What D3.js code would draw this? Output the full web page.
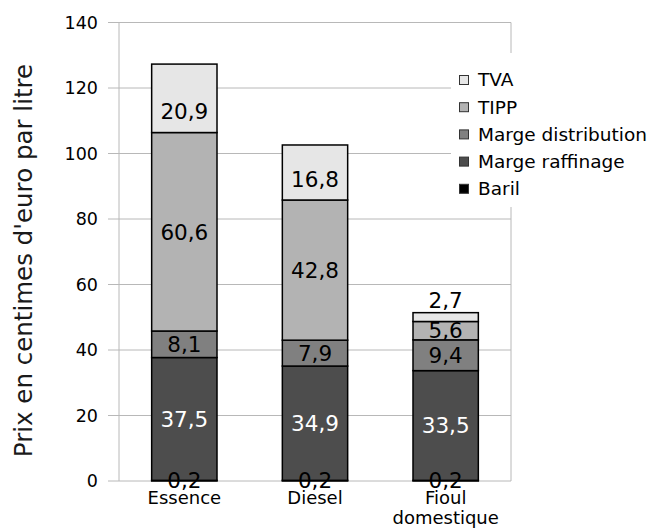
<!DOCTYPE html>
<html>
<head>
<meta charset="utf-8">
<script src="https://cdn.jsdelivr.net/npm/d3@7"></script>
<style>
  body { margin: 0; background: #fff; }
  svg { font-family: "DejaVu Sans", sans-serif; }
</style>
</head>
<body>
<svg id="chart" width="658" height="528"></svg>
<script>
// Data
const categories = ['Essence', 'Diesel', 'Fioul domestique'];
const seriesNames = ['Baril', 'Marge raffinage', 'Marge distribution', 'TIPP', 'TVA'];
const baril = [0.2, 0.2, 0.2];
const margeRaffinage = [37.5, 34.9, 33.5];
const margeDistribution = [8.1, 7.9, 9.4];
const tipp = [60.6, 42.8, 5.6];
const tva = [20.9, 16.8, 2.7];
const yTicks = [0, 20, 40, 60, 80, 100, 120, 140];

const seriesValues = [baril, margeRaffinage, margeDistribution, tipp, tva];
const colors = ['#000000', '#4d4d4d', '#808080', '#b3b3b3', '#e6e6e6'];
const labelColors = ['#000', '#fff', '#000', '#000', '#000'];

const svg = d3.select('#chart');
const margin = { left: 119, right: 147, top: 22.5, bottom: 47 };
const width = 658 - margin.left - margin.right;
const height = 528 - margin.top - margin.bottom;

const g = svg.append('g').attr('transform', `translate(${margin.left},${margin.top})`);

const x = d3.scaleBand().domain(categories).range([0, width]).paddingInner(0.5).paddingOuter(0.25);
const y = d3.scaleLinear().domain([0, 140]).range([height, 0]);

// Gridlines
g.append('g').selectAll('line')
    .data(yTicks)
    .join('line')
    .attr('x1', -11)
    .attr('x2', width)
    .attr('y1', d => y(d))
    .attr('y2', d => y(d))
    .attr('stroke', '#b8b8b8')
    .attr('stroke-width', 1);

// Axis lines
g.append('line').attr('x1', 0).attr('x2', 0).attr('y1', 0).attr('y2', height)
    .attr('stroke', '#b8b8b8');
g.append('line').attr('x1', width).attr('x2', width).attr('y1', 0).attr('y2', height)
    .attr('stroke', '#b8b8b8');

// Tick labels
g.append('g').selectAll('text')
    .data(yTicks)
    .join('text')
    .attr('x', -21)
    .attr('y', d => y(d))
    .attr('dy', '0.35em')
    .attr('text-anchor', 'end')
    .attr('font-size', 17.5)
    .attr('fill', '#000')
    .text(d => d);

// Stack
const rows = categories.map((c, i) => {
    const r = { cat: c };
    seriesNames.forEach((s, k) => r[s] = seriesValues[k][i]);
    return r;
});
const stacked = d3.stack().keys(seriesNames)(rows);

const layers = g.append('g').selectAll('g')
    .data(stacked)
    .join('g')
    .attr('fill', (d, k) => colors[k]);

layers.selectAll('rect')
    .data(d => d)
    .join('rect')
    .attr('x', d => x(d.data.cat))
    .attr('width', x.bandwidth())
    .attr('y', d => y(d[1]))
    .attr('height', d => y(d[0]) - y(d[1]))
    .attr('stroke', '#000')
    .attr('stroke-width', 1.5);

// Value labels
stacked.forEach((layer, k) => {
    layer.forEach(d => {
        const v = d[1] - d[0];
        let cy = y((d[0] + d[1]) / 2);
        // top layer labels sit a fixed distance above the segment's base
        if (k === seriesNames.length - 1) cy = y(d[0]) - 21;
        g.append('text')
            .attr('x', x(d.data.cat) + x.bandwidth() / 2)
            .attr('y', cy)
            .attr('dy', '0.36em')
            .attr('text-anchor', 'middle')
            .attr('font-size', 21.5)
            .attr('fill', labelColors[k])
            .text(d3.format('.1f')(v).replace('.', ','));
    });
});

// Category labels
const xl = g.append('g').selectAll('text')
    .data(categories)
    .join('text')
    .attr('y', height + 17)
    .attr('text-anchor', 'middle')
    .attr('font-size', 18)
    .attr('fill', '#000');
xl.each(function(d) {
    const t = d3.select(this);
    d.split(' ').forEach((w, i) => {
        t.append('tspan')
            .attr('x', x(d) + x.bandwidth() / 2)
            .attr('dy', i === 0 ? '0.35em' : 20)
            .text(w);
    });
});

// Y axis title
svg.append('text')
    .attr('transform', 'translate(32,260.5) rotate(-90)')
    .attr('text-anchor', 'middle')
    .attr('font-size', 24.5)
    .attr('fill', '#1a1a1a')
    .text("Prix en centimes d'euro par litre");

// Legend
const legend = svg.append('g').attr('transform', 'translate(451,53)');
legend.append('rect')
    .attr('width', 207)
    .attr('height', 154)
    .attr('fill', '#fff');

const legendItems = seriesNames.map((s, k) => ({ name: s, color: colors[k] })).reverse();
const li = legend.selectAll('g.item')
    .data(legendItems)
    .join('g')
    .attr('class', 'item')
    .attr('transform', (d, i) => `translate(0,${27 + i * 27.2})`);
li.append('rect')
    .attr('x', 8.5)
    .attr('y', -4.5)
    .attr('width', 9)
    .attr('height', 9)
    .attr('fill', d => d.color)
    .attr('stroke', '#333')
    .attr('stroke-width', 1);
li.append('text')
    .attr('x', 27)
    .attr('dy', '0.35em')
    .attr('font-size', 18.5)
    .attr('fill', '#000')
    .text(d => d.name);
</script>
</body>
</html>
